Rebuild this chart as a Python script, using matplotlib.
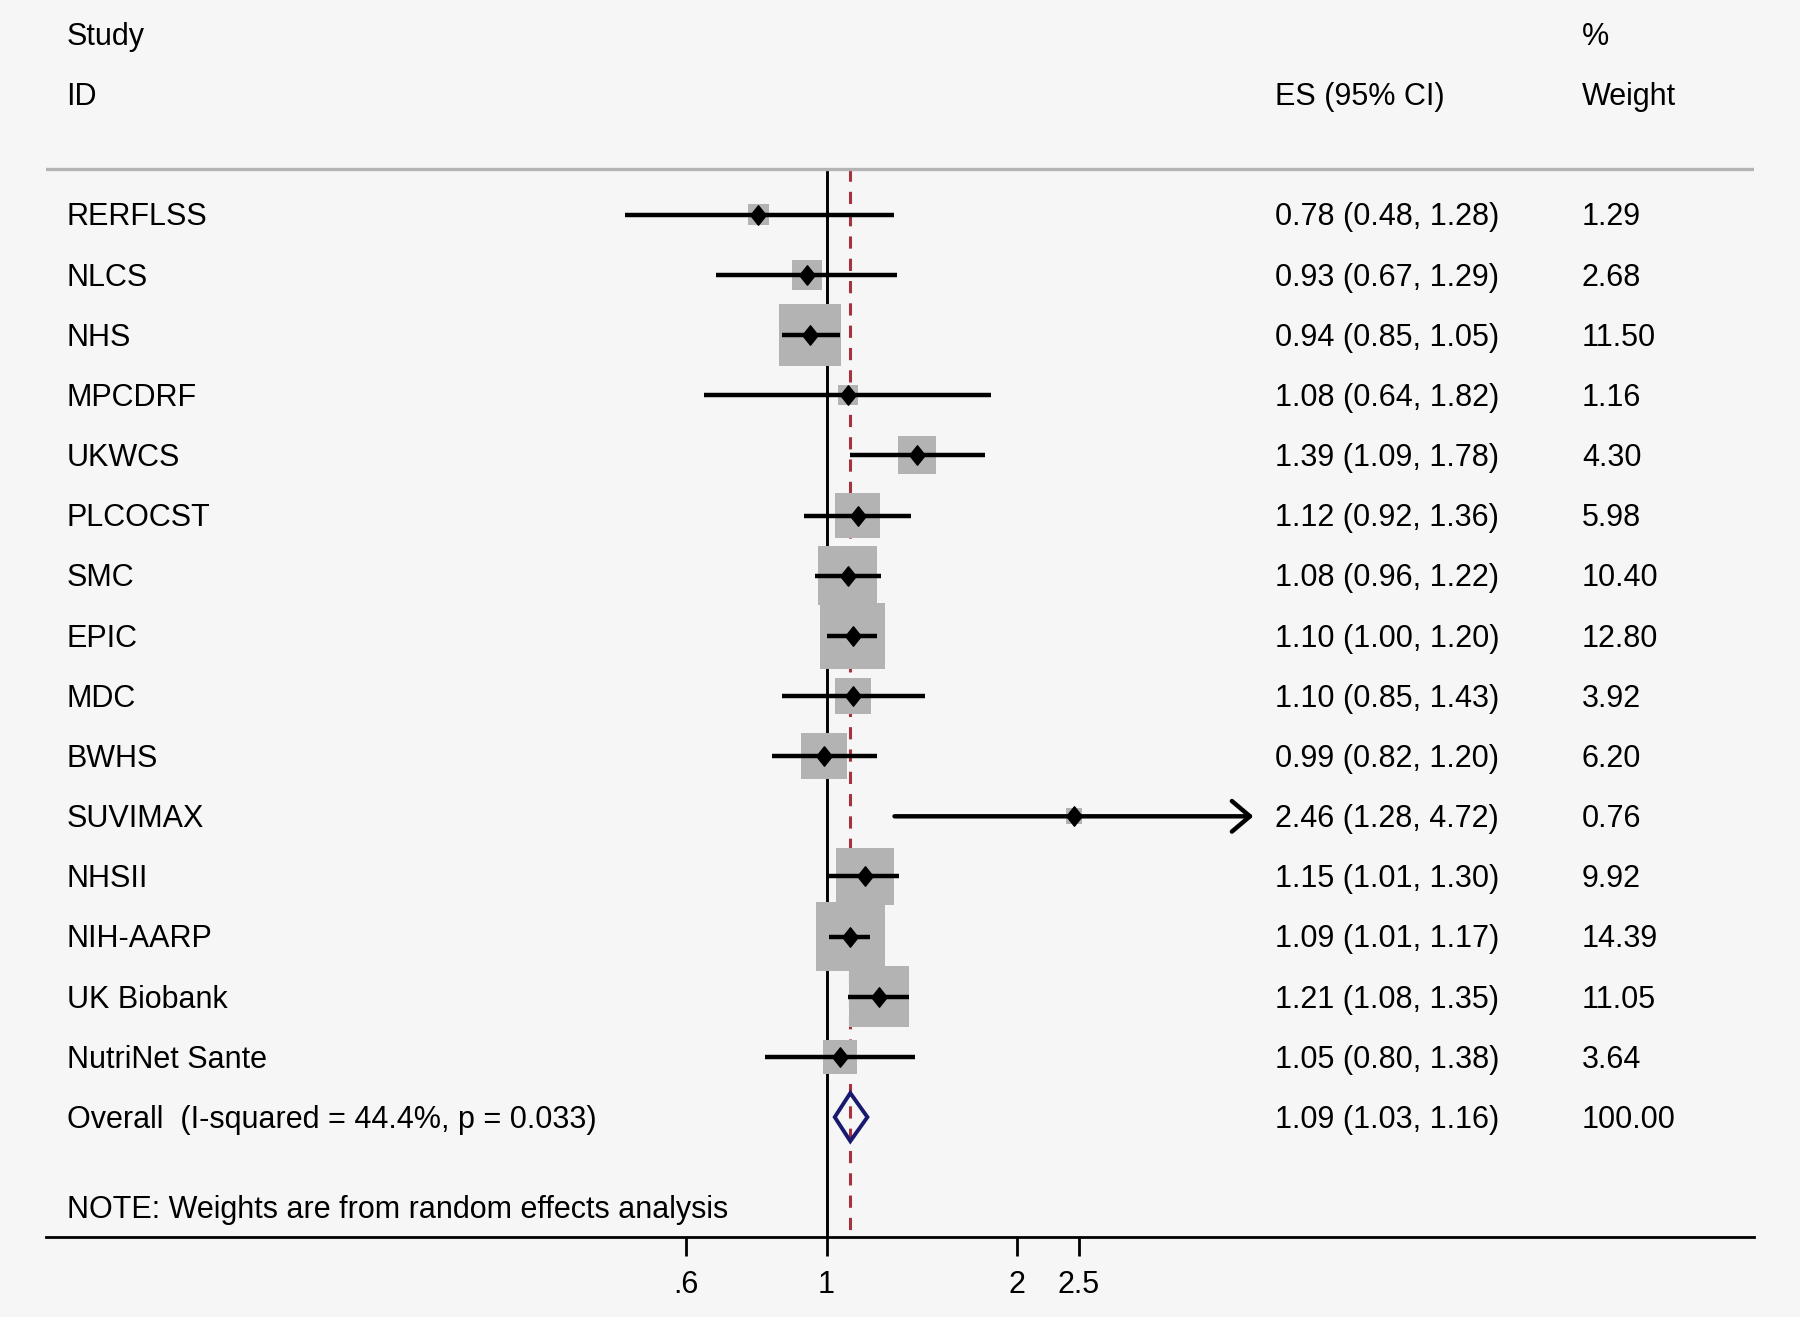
import numpy as np
import matplotlib
matplotlib.use("Agg")
import matplotlib.pyplot as plt
from matplotlib.patches import Polygon
from matplotlib.transforms import ScaledTranslation

# ---------------- data ----------------
studies = ["RERFLSS", "NLCS", "NHS", "MPCDRF", "UKWCS", "PLCOCST", "SMC", "EPIC",
           "MDC", "BWHS", "SUVIMAX", "NHSII", "NIH-AARP", "UK Biobank", "NutriNet Sante"]
es    = [0.78, 0.93, 0.94, 1.08, 1.39, 1.12, 1.08, 1.10, 1.10, 0.99, 2.46, 1.15, 1.09, 1.21, 1.05]
lower = [0.48, 0.67, 0.85, 0.64, 1.09, 0.92, 0.96, 1.00, 0.85, 0.82, 1.28, 1.01, 1.01, 1.08, 0.80]
upper = [1.28, 1.29, 1.05, 1.82, 1.78, 1.36, 1.22, 1.20, 1.43, 1.20, 4.72, 1.30, 1.17, 1.35, 1.38]
weights = [1.29, 2.68, 11.50, 1.16, 4.30, 5.98, 10.40, 12.80, 3.92, 6.20, 0.76, 9.92, 14.39, 11.05, 3.64]

overall_es, overall_lo, overall_hi = 1.09, 1.03, 1.16
overall_weight = 100.00
overall_label = "Overall  (I-squared = 44.4%, p = 0.033)"
note_text = "NOTE: Weights are from random effects analysis"

tick_vals = [0.6, 1, 2, 2.5]
tick_labels = [".6", "1", "2", "2.5"]

# ---------------- style ----------------
BG = "#f6f6f6"
BOX = "#b3b3b3"
FS = 22
FONT = "Liberation Sans"
plt.rcParams["font.family"] = [FONT, "DejaVu Sans"]

fig = plt.figure(figsize=(18, 13.17), dpi=100, facecolor=BG)
ax = fig.add_axes([0.0255, 0.0611, 0.949, 0.9389])
ax.set_facecolor(BG)
ax.patch.set_alpha(0)

ax.set_xscale("log")
ax.set_xlim(0.0585, 29.15)
YBOT, YTOP = 16.985, -3.569
HEADER = -0.763
ax.set_ylim(YBOT, YTOP)

n = len(studies)
rows = np.arange(n)
overall_row = n

# reference lines
ax.vlines(1, HEADER, YBOT, color="black", lw=2.1, zorder=1)
ax.vlines(overall_es, HEADER, YBOT, color="#a6313f", lw=2.2,
          linestyles=(0, (4.0, 3.3)), zorder=1)
ax.axhline(HEADER, color="#b4b4b4", lw=2.4, zorder=1)

# weight boxes
ax.scatter(es, rows, s=[173.0 * w for w in weights], marker="s",
           color=BOX, edgecolors="none", zorder=2)

# CI lines
for i in range(n):
    if i == studies.index("SUVIMAX"):
        ax.annotate("", xy=(upper[i], rows[i]), xytext=(lower[i], rows[i]),
                    arrowprops=dict(arrowstyle="->,head_length=0.65,head_width=0.55",
                                    mutation_scale=20, lw=3.2, color="black",
                                    shrinkA=0, shrinkB=0),
                    zorder=3)
    else:
        ax.hlines(rows[i], lower[i], upper[i], color="black", lw=3.2, zorder=3)

# point estimates (slightly tall diamonds)
dmark = [(-0.8, 0), (0, 1), (0.8, 0), (0, -1), (-0.8, 0)]
ax.plot(es, rows, linestyle="none", marker=dmark, ms=14, color="black",
        markeredgewidth=1.0, zorder=4)

# overall diamond
h = 0.4
diamond = Polygon([(overall_lo, overall_row), (overall_es, overall_row - h),
                   (overall_hi, overall_row), (overall_es, overall_row + h)],
                  closed=True, fill=False, edgecolor="#191970", lw=2.8, zorder=3)
ax.add_patch(diamond)

# text columns
tr = ax.get_yaxis_transform() + ScaledTranslation(0, -2.0 / 72, fig.dpi_scale_trans)
X_NAME, X_ES, X_W = 0.0121, 0.7198, 0.8992
ax.text(X_NAME, -3, "Study", transform=tr, fontsize=FS, va="center", ha="left")
ax.text(X_NAME, -2, "ID", transform=tr, fontsize=FS, va="center", ha="left")
ax.text(X_ES, -2, "ES (95% CI)", transform=tr, fontsize=FS, va="center", ha="left")
ax.text(X_W, -3, "%", transform=tr, fontsize=FS, va="center", ha="left")
ax.text(X_W, -2, "Weight", transform=tr, fontsize=FS, va="center", ha="left")

for i in range(n):
    ax.text(X_NAME, rows[i], studies[i], transform=tr, fontsize=FS, va="center")
    ax.text(X_ES, rows[i], f"{es[i]:.2f} ({lower[i]:.2f}, {upper[i]:.2f})",
            transform=tr, fontsize=FS, va="center")
    ax.text(X_W, rows[i], f"{weights[i]:.2f}", transform=tr, fontsize=FS, va="center")

ax.text(X_NAME, overall_row, overall_label, transform=tr, fontsize=FS, va="center")
ax.text(X_ES, overall_row, f"{overall_es:.2f} ({overall_lo:.2f}, {overall_hi:.2f})",
        transform=tr, fontsize=FS, va="center")
ax.text(X_W, overall_row, f"{overall_weight:.2f}", transform=tr, fontsize=FS, va="center")
ax.text(X_NAME, 16.5, note_text, transform=tr, fontsize=FS, va="center")

# axes
for s in ["top", "left", "right"]:
    ax.spines[s].set_visible(False)
ax.spines["bottom"].set_linewidth(2.0)
ax.set_yticks([])
ax.xaxis.set_minor_locator(matplotlib.ticker.NullLocator())
ax.set_xticks(tick_vals)
ax.set_xticklabels(tick_labels, fontsize=FS)
ax.tick_params(axis="x", length=13.7, width=2.0, pad=10.5, direction="out")

fig.savefig("out.png", dpi=100, facecolor=BG)
